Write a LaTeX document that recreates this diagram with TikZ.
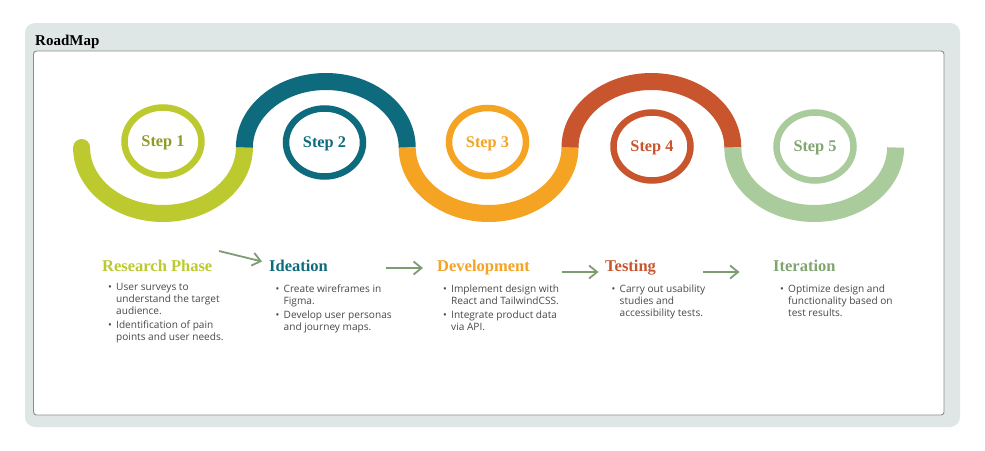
\documentclass[tikz,border=0pt]{standalone}
\usepackage{fontspec}
\setmainfont{Liberation Serif}
\newfontfamily\bodyfont{Open Sans}
\usetikzlibrary{arrows.meta,shapes.geometric}

\definecolor{panelbg}{HTML}{DFE7E6}
\definecolor{framegray}{HTML}{8C8C8C}
\definecolor{bodygray}{HTML}{484848}
\definecolor{flowgreen}{HTML}{7E9C72}
\definecolor{cLime}{HTML}{BDCA2F}
\definecolor{cLimeText}{HTML}{8E9A22}
\definecolor{cTeal}{HTML}{0E6B7D}
\definecolor{cOrange}{HTML}{F4A322}
\definecolor{cRed}{HTML}{C9552F}
\definecolor{cGreen}{HTML}{AACB9B}
\definecolor{cGreenText}{HTML}{80A571}

% bullet mark and bullet list (first row baseline = node baseline)
\newcommand\bul{\makebox[8pt][l]{\fontsize{10}{10}\selectfont•}}
\newcommand\items[1]{\begin{tabular}[t]{@{}l@{}l@{}}#1\end{tabular}}

\begin{document}
\begin{tikzpicture}[x=1pt,y=-1pt,
  wave/.style={line width=17pt},
  ring/.style={ellipse, draw, line width=6.5pt, minimum width=77pt,
    minimum height=68pt, inner sep=0pt, text depth=0pt,
    font=\fontsize{16.3}{18}\selectfont\bfseries},
  head/.style={anchor=base west, inner sep=0pt,
    font=\fontsize{16.5}{18}\selectfont\bfseries},
  body/.style={anchor=base west, inner sep=0pt, text=bodygray,
    font=\bodyfont\fontsize{10.1}{11.8}\selectfont},
  flow/.style={draw=flowgreen, line width=1.8pt,
    -{Straight Barb[length=8pt,width=13pt]}}
]
\useasboundingbox (0,0) rectangle (985,450);
\fill[white] (0,0) rectangle (985,450);

% panel and frame
\fill[panelbg, rounded corners=10pt] (25,23) rectangle (960,427);
\draw[framegray, fill=white, line width=0.9pt, rounded corners=3pt]
  (33.5,51) rectangle (944,415);
\node[anchor=base west, inner sep=0pt, font=\fontsize{15}{18}\selectfont\bfseries]
  (title) at (35,45) {RoadMap};

% the winding road, one half-ellipse per step
\fill[cLime] (81.6,147.5) circle[radius=8.5];
\draw[wave, cLime]   (81.6,147.5)  arc[start angle=180, end angle=0,   x radius=81.4, y radius=66];
\draw[wave, cTeal]   (244.4,147.5) arc[start angle=180, end angle=360, x radius=81.4, y radius=66];
\draw[wave, cOrange] (407.2,147.5) arc[start angle=180, end angle=0,   x radius=81.4, y radius=66];
\draw[wave, cRed]    (570.0,147.5) arc[start angle=180, end angle=360, x radius=81.4, y radius=66];
\draw[wave, cGreen]  (732.8,147.5) arc[start angle=180, end angle=0,   x radius=81.4, y radius=66];

% step rings
\node[ring, draw=cLime, text=cLimeText]     (s1) at (163,141.5) {Step 1};
\node[ring, draw=cTeal, text=cTeal]         (s2) at (324.5,142.5) {Step 2};
\node[ring, draw=cOrange, text=cOrange]     (s3) at (487.5,142) {Step 3};
\node[ring, draw=cRed, text=cRed]           (s4) at (652,146.5) {Step 4};
\node[ring, draw=cGreen, text=cGreenText]   (s5) at (815,146.5) {Step 5};

% phase headings
\node[head, text=cLime]      (h1) at (102,271) {Research Phase};
\node[head, text=cTeal]      (h2) at (269,271) {Ideation};
\node[head, text=cOrange]    (h3) at (437,271) {Development};
\node[head, text=cRed]       (h4) at (605,271) {Testing};
\node[head, text=cGreenText] (h5) at (773,271) {Iteration};

% phase details
\node[body] (l1) at (108,290.5) {\items{%
  \bul & User surveys to\\ & understand the target\\ & audience.\\[2.6pt]
  \bul & Identification of pain\\ & points and user needs.}};
\node[body] (l2) at (275.5,292.7) {\items{%
  \bul & Create wireframes in\\ & Figma.\\[2.4pt]
  \bul & Develop user personas\\ & and journey maps.}};
\node[body] (l3) at (443,292.7) {\items{%
  \bul & Implement design with\\ & React and TailwindCSS.\\[2.4pt]
  \bul & Integrate product data\\ & via API.}};
\node[body] (l4) at (611.5,292.7) {\items{%
  \bul & Carry out usability\\ & studies and\\ & accessibility tests.}};
\node[body] (l5) at (780,292.5) {\items{%
  \bul & Optimize design and\\ & functionality based on\\ & test results.}};

% flow arrows between phases
\coordinate (a1s) at (219,251);   \coordinate (a1e) at (262,261.5);
\coordinate (a2s) at (386,268);   \coordinate (a2e) at (423,268);
\coordinate (a3s) at (562,272);   \coordinate (a3e) at (598.5,272);
\coordinate (a4s) at (703,272);   \coordinate (a4e) at (739.5,272);
\draw[flow] (a1s) -- (a1e);
\draw[flow] (a2s) -- (a2e);
\draw[flow] (a3s) -- (a3e);
\draw[flow] (a4s) -- (a4e);
\end{tikzpicture}
\end{document}
